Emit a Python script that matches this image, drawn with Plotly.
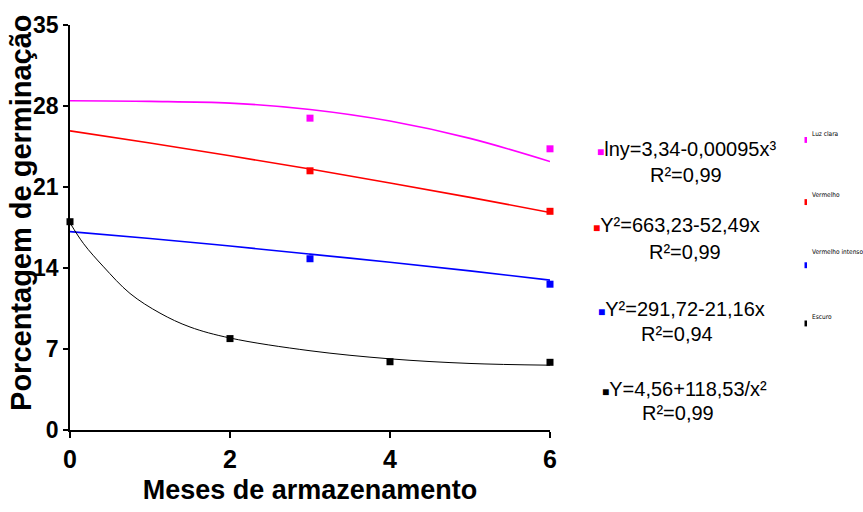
import plotly.graph_objects as go

# observed data
luz_x = [3, 6]
luz_y = [26.95, 24.3]
verm_x = [3, 6]
verm_y = [22.4, 18.9]
vint_x = [3, 6]
vint_y = [14.8, 12.6]
esc_x = [0, 2, 4, 6]
esc_y = [18.0, 7.9, 5.9, 5.85]

# fitted curves
fit_x = [0, 1, 2, 3, 4, 5, 6]
luz_fit = [28.45, 28.4, 28.25, 27.7, 26.7, 25.2, 23.2]
verm_fit = [25.85, 24.8, 23.7, 22.55, 21.35, 20.1, 18.8]
vint_fit = [17.14, 16.55, 15.9, 15.2, 14.5, 13.75, 12.95]
esc_fit_x = [0, 0.17, 0.42, 0.75, 1.125, 1.5, 2, 3, 4, 5, 6]
esc_fit = [17.9, 16.1, 14.1, 11.8, 10.1, 8.9, 7.95, 6.85, 6.15, 5.75, 5.6]

x_ticks = [0, 2, 4, 6]
y_ticks = [0, 7, 14, 21, 28, 35]

series_names = ["Luz clara", "Vermelho", "Vermelho intenso", "Escuro"]
colors = ["#ff00ff", "#ff0000", "#0000ff", "#000000"]
equations = ["lny=3,34-0,00095x³", "Y²=663,23-52,49x", "Y²=291,72-21,16x", "Y=4,56+118,53/x²"]
r2 = ["R²=0,99", "R²=0,99", "R²=0,94", "R²=0,99"]

fig = go.Figure()
fits = [(fit_x, luz_fit), (fit_x, verm_fit), (fit_x, vint_fit), (esc_fit_x, esc_fit)]
obs = [(luz_x, luz_y), (verm_x, verm_y), (vint_x, vint_y), (esc_x, esc_y)]
for i in range(4):
    fx, fy = fits[i]
    fig.add_trace(go.Scatter(x=fx, y=fy, mode="lines", line=dict(color=colors[i], width=1 if i == 3 else 1.6, shape="spline"),
                             showlegend=False, cliponaxis=False, hoverinfo="skip"))
    ox, oy = obs[i]
    fig.add_trace(go.Scatter(x=ox, y=oy, mode="markers", name=series_names[i],
                             marker=dict(symbol="square", size=7, color=colors[i]),
                             showlegend=False, cliponaxis=False))

L, R, T, B = 70, 313, 24.5, 77
W, H = 863, 512
pw = W - L - R
ph = H - T - B

def px(x):
    return (x - L) / pw

def py(y):
    return (H - B - y) / ph

FONT = "Liberation Sans, Arial"
annots = []
eq_pos = [(686, 150), (676, 227), (681, 312), (684, 393)]
r2_pos = [(686, 177), (685, 255), (677, 338), (678, 418)]
for i in range(4):
    annots.append(dict(x=px(eq_pos[i][0]), y=py(eq_pos[i][1]), xref="paper", yref="paper", showarrow=False,
                       xanchor="center", yanchor="middle",
                       text=f"<span style='color:{colors[i]};font-size:12px'>■</span>{equations[i]}",
                       font=dict(family=FONT, size=20, color="black")))
    annots.append(dict(x=px(r2_pos[i][0]), y=py(r2_pos[i][1]), xref="paper", yref="paper", showarrow=False,
                       xanchor="center", yanchor="middle", text=r2[i],
                       font=dict(family=FONT, size=20, color="black")))

leg_text_y = [135, 197, 255, 320]
leg_mark_y = [141, 204, 268, 327]
shapes = []
for i in range(4):
    annots.append(dict(x=px(810), y=py(leg_text_y[i]), xref="paper", yref="paper", showarrow=False,
                       xanchor="left", yanchor="middle", text=series_names[i],
                       font=dict(family="DejaVu Sans Condensed, Liberation Sans Narrow, Liberation Sans", size=6.5, color="black")))
    shapes.append(dict(type="rect", xref="paper", yref="paper", x0=px(804.5), x1=px(807), y0=py(leg_mark_y[i] + 3), y1=py(leg_mark_y[i] - 3),
                       fillcolor=colors[i], line=dict(width=0)))

annots.append(dict(x=px(21), y=py(215), xref="paper", yref="paper", showarrow=False, textangle=-90,
                   xanchor="center", yanchor="middle", text="<b>Porcentagem de germinação</b>",
                   font=dict(family=FONT, size=29, color="black")))

fig.update_layout(
    width=W, height=H, margin=dict(l=L, r=R, t=T, b=B),
    paper_bgcolor="white", plot_bgcolor="white",
    annotations=annots, shapes=shapes,
    xaxis=dict(range=[0, 6], tickvals=x_ticks, ticktext=[str(v) for v in x_ticks], showgrid=False, zeroline=False,
               showline=True, linecolor="black", linewidth=1.5, ticks="outside", ticklen=6, tickcolor="black", tickwidth=1.5,
               tickfont=dict(family=FONT, size=25, color="black", weight="bold"),
               title=dict(text="<b>Meses de armazenamento</b>", standoff=8,
                          font=dict(family=FONT, size=27, color="black"))),
    yaxis=dict(range=[0, 35], tickvals=y_ticks, ticktext=[str(v) for v in y_ticks], showgrid=False, zeroline=False,
               showline=True, linecolor="black", linewidth=1.5, ticks="outside", ticklen=5, tickcolor="black", tickwidth=1.5,
               tickfont=dict(family=FONT, size=23, color="black", weight="bold")),
)

fig.write_html("out.html", config={"displayModeBar": False}, post_script="document.body.style.margin='0';")
